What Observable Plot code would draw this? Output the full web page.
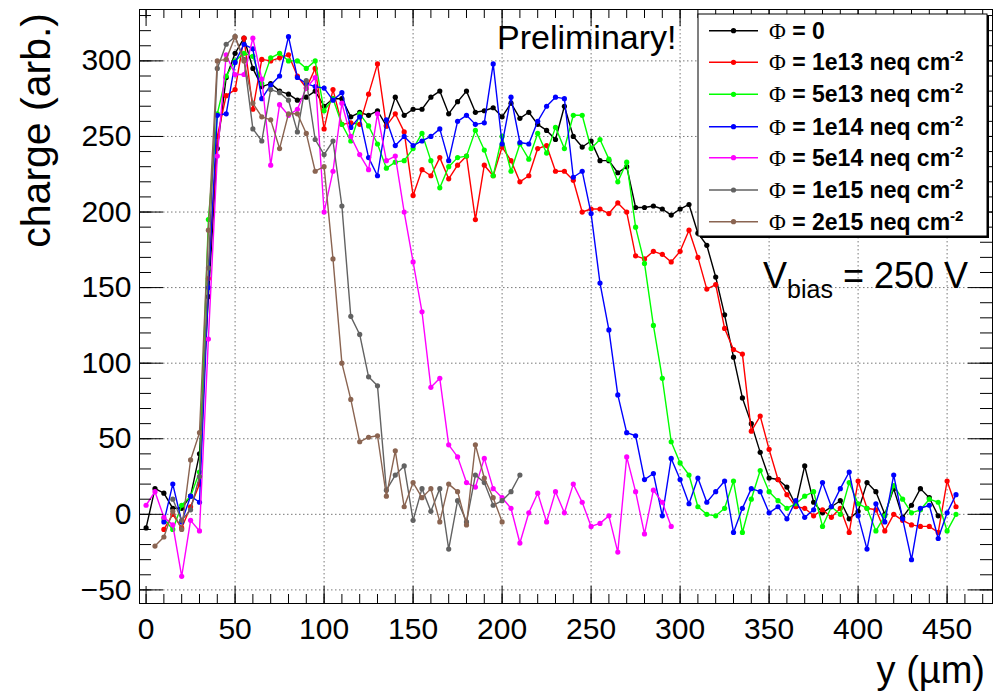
<!DOCTYPE html>
<html><head><meta charset="utf-8">
<script src="https://cdn.jsdelivr.net/npm/d3@7"></script>
<script src="https://cdn.jsdelivr.net/npm/@observablehq/plot@0.6"></script>
<style>
html,body{margin:0;padding:0;background:#fff;}
#chart{width:994px;height:695px;overflow:hidden;}
</style></head><body><div id="chart"></div>
<script>
// ---------- data ----------
const positions = [0,5,10,15,20,25,30,35,40,45,50,55,60,65,70,75,80,85,90,95,
  100,105,110,115,120,125,130,135,140,145,150,155,160,165,170,175,180,185,190,195,
  200,205,210,215,220,225,230,235,240,245,250,255,260,265,270,275,280,285,290,295,
  300,305,310,315,320,325,330,335,340,345,350,355,360,365,370,375,380,385,390,395,
  400,405,410,415,420,425,430,435,440,445,450,455];

const seriesNames = ["Φ = 0","Φ = 1e13 neq cm-2","Φ = 5e13 neq cm-2","Φ = 1e14 neq cm-2",
  "Φ = 5e14 neq cm-2","Φ = 1e15 neq cm-2","Φ = 2e15 neq cm-2"];
const seriesColors = ["#000000","#ff0000","#00ff00","#0000ff","#ff00ff","#626262","#8a6451"];
const seriesFirstY = [0,10,10,10,0,15,5];

const chargePhi0 = [-9,17,14,4,4,12,40,144,242,289,
  305,315,295,283,285,280,278,274,276,280,
  270,275,275,263,266,264,267,257,276,264,
  268,268,276,280,265,273,280,266,267,269,
  263,272,262,266,258,254,248,270,250,243,
  247,234,234,226,230,203,203,204,202,198,
  202,205,186,178,157,132,104,77,60,41,
  24,23,18,6,32,8,1,5,9,-3,
  2,21,15,0,17,-2,6,17,11,-1];
const charge1e13 = [-10,0,-9,5,20,156,250,277,281,315,
  268,301,300,302,304,290,282,295,255,281,
  258,259,258,278,298,257,265,253,211,228,
  224,236,222,231,237,195,231,224,243,234,
  220,224,242,244,227,227,221,200,202,202,
  199,206,200,171,169,174,172,167,174,188,
  170,149,152,123,109,106,55,65,43,23,
  13,5,4,-1,3,-2,4,-12,22,4,
  3,-11,0,-4,-7,-8,-8,-12,22,5];
const charge5e13 = [-3,-10,6,12,28,195,265,290,300,305,
  303,285,302,305,300,300,295,300,267,275,
  258,247,265,257,245,229,233,234,242,252,
  234,216,230,236,237,254,241,224,250,227,
  245,235,252,239,256,242,264,264,242,248,
  235,220,233,190,166,125,90,48,34,26,
  5,0,-1,4,22,-12,10,29,15,9,
  4,7,12,15,-8,5,0,21,7,4,
  -11,-1,19,10,1,3,10,8,-11,0];
const charge1e14 = [-5,20,-5,12,8,150,264,265,299,311,
  308,275,284,290,316,289,285,283,282,274,
  279,256,263,236,224,261,244,250,244,247,
  250,255,234,260,264,258,259,298,245,276,
  246,245,260,270,276,275,223,227,199,153,
  122,79,54,52,23,27,-1,37,23,7,
  24,8,15,22,-12,4,17,15,1,5,
  -3,9,-2,3,21,5,17,28,-1,-23,
  7,-5,26,-3,-30,4,6,-16,1,13];
const charge5e14 = [6,15,-2,-7,-41,-4,-11,116,237,304,
  291,291,315,288,231,271,264,268,282,289,
  200,227,272,250,238,228,265,234,237,200,
  167,134,84,90,46,38,21,18,37,17,
  11,4,-19,1,14,-5,15,1,20,8,
  -8,-6,-1,-25,38,15,-13,16,8,-8];
const charge1e15 = [10,-4,3,25,163,295,311,316,301,255,
  247,281,279,274,253,287,248,238,247,204,
  131,119,91,85,16,26,32,-4,17,2,
  17,-23,9,-5,26,21,6,9,15,26];
const charge2e15 = [-21,-15,2,-10,36,54,188,300,301,316,
  300,272,263,261,242,265,265,252,227,230,
  169,100,76,48,51,52,12,42,5,21,
  11,17,-5,20,15,-7,46,24,11,-5];
const seriesValues = [chargePhi0,charge1e13,charge5e13,charge1e14,charge5e14,charge1e15,charge2e15];

const xMajorTicks = [0,50,100,150,200,250,300,350,400,450];
const xMinorTicks = [0,10,20,30,40,50,60,70,80,90,100,110,120,130,140,150,160,170,180,190,200,
  210,220,230,240,250,260,270,280,290,300,310,320,330,340,350,360,370,380,390,400,410,420,430,440,450,460,470];
const yMajorTicks = [-50,0,50,100,150,200,250,300];
const yMinorTicks = [-50,-40,-30,-20,-10,0,10,20,30,40,50,60,70,80,90,100,110,120,130,140,150,
  160,170,180,190,200,210,220,230,240,250,260,270,280,290,300,310,320,330];

// ---------- build table ----------
const rows = [];
seriesValues.forEach((vals, s) => {
  const i0 = positions.indexOf(seriesFirstY[s]);
  vals.forEach((v, i) => rows.push({series: seriesNames[s], pos: positions[i0 + i], charge: v}));
});

// ---------- layout ----------
const W = 994, H = 695, mL = 139, mR = 2, mT = 9, mB = 92;
const xDomain = [-3.7, 475.5], yDomain = [-59, 334];
const pxX = (W - mL - mR) / (xDomain[1] - xDomain[0]);
const pxY = (H - mT - mB) / (yDomain[1] - yDomain[0]);

const tickRules = [
  Plot.ruleX(xMinorTicks, {x: d => d, y1: yDomain[0], y2: yDomain[0] + 9 / pxY, stroke: "#000"}),
  Plot.ruleX(xMajorTicks, {x: d => d, y1: yDomain[0], y2: yDomain[0] + 17 / pxY, stroke: "#000"}),
  Plot.ruleX(xMinorTicks, {x: d => d, y1: yDomain[1], y2: yDomain[1] - 9 / pxY, stroke: "#000"}),
  Plot.ruleX(xMajorTicks, {x: d => d, y1: yDomain[1], y2: yDomain[1] - 17 / pxY, stroke: "#000"}),
  Plot.ruleY(yMinorTicks, {y: d => d, x1: xDomain[0], x2: xDomain[0] + 12 / pxX, stroke: "#000"}),
  Plot.ruleY(yMajorTicks, {y: d => d, x1: xDomain[0], x2: xDomain[0] + 24 / pxX, stroke: "#000"}),
  Plot.ruleY(yMinorTicks, {y: d => d, x1: xDomain[1], x2: xDomain[1] - 12 / pxX, stroke: "#000"}),
  Plot.ruleY(yMajorTicks, {y: d => d, x1: xDomain[1], x2: xDomain[1] - 24 / pxX, stroke: "#000"})
];

const seriesMarks = [];
seriesNames.forEach((name) => {
  const d = rows.filter(r => r.series === name);
  seriesMarks.push(Plot.line(d, {x: "pos", y: "charge", stroke: "series", strokeWidth: 1.4}));
  seriesMarks.push(Plot.dot(d, {x: "pos", y: "charge", fill: "series", r: 2.6, stroke: null}));
});

const chart = Plot.plot({
  width: W, height: H,
  marginLeft: mL, marginRight: mR, marginTop: mT, marginBottom: mB,
  style: {fontFamily: "'Liberation Sans', Arial, sans-serif", fontSize: "30px", color: "#000", background: "#fff"},
  x: {domain: xDomain},
  y: {domain: yDomain},
  color: {domain: seriesNames, range: seriesColors},
  marks: [
    Plot.ruleX(xMajorTicks.filter(t => t !== 0), {x: d => d, stroke: "#777", strokeWidth: 1, strokeDasharray: "1.5,2.5"}),
    Plot.ruleY(yMajorTicks, {y: d => d, stroke: "#777", strokeWidth: 1, strokeDasharray: "1.5,2.5"}),
    ...seriesMarks,
    ...tickRules,
    Plot.axisX({ticks: xMajorTicks, tickSize: 0, tickPadding: 14, fontSize: 30, label: null}),
    Plot.axisY({ticks: yMajorTicks, tickSize: 0, tickPadding: 8, fontSize: 30, label: null}),
    Plot.frame({stroke: "#000", strokeWidth: 1})
  ]
});
document.getElementById("chart").appendChild(chart);

// ---------- annotations ----------
const svg = d3.select(chart);
const helv = "'Liberation Sans', Arial, sans-serif";
const serif = "'Liberation Serif', 'DejaVu Serif', serif";

svg.append("text").attr("transform", "translate(50,13) rotate(-90)")
  .attr("text-anchor", "end").attr("font-family", helv).attr("font-size", 41).attr("fill", "#000")
  .text("charge (arb.)");
svg.append("text").attr("x", 985).attr("y", 683)
  .attr("text-anchor", "end").attr("font-family", helv).attr("font-size", 38).attr("fill", "#000")
  .text("y (µm)");

svg.append("text").attr("x", 497).attr("y", 49).attr("text-anchor", "start")
  .attr("font-family", helv).attr("font-size", 34).attr("fill", "#000").text("Preliminary!");

const vb = svg.append("text").attr("x", 763).attr("y", 288).attr("text-anchor", "start")
  .attr("font-family", helv).attr("font-size", 36).attr("fill", "#000");
vb.append("tspan").text("V");
vb.append("tspan").attr("font-size", 25).attr("dy", 10).text("bias");
vb.append("tspan").attr("dy", -10).text(" = 250 V");

// legend
const lg = svg.append("g");
lg.append("rect").attr("x", 700).attr("y", 16).attr("width", 289).attr("height", 222).attr("fill", "#000");
lg.append("rect").attr("x", 698).attr("y", 14).attr("width", 289).attr("height", 222)
  .attr("fill", "#fff").attr("stroke", "#000").attr("stroke-width", 1);
const rowY = [30.7, 62.3, 94.3, 126.7, 157.7, 190, 221.7];
seriesNames.forEach((name, i) => {
  const y = rowY[i];
  lg.append("line").attr("x1", 709).attr("x2", 758).attr("y1", y).attr("y2", y)
    .attr("stroke", seriesColors[i]).attr("stroke-width", 1.4);
  lg.append("circle").attr("cx", 733.5).attr("cy", y).attr("r", 2.6).attr("fill", seriesColors[i]);
  const t = lg.append("text").attr("x", 769).attr("y", y + 8).attr("text-anchor", "start")
    .attr("font-family", helv).attr("font-size", 23).attr("font-weight", "bold").attr("fill", "#000");
  t.append("tspan").attr("font-family", serif).attr("font-weight", "normal").text("Φ");
  if (i === 0) {
    t.append("tspan").text(" = 0");
  } else {
    const core = name.replace("Φ", "").replace(" cm-2", " cm");
    t.append("tspan").text(core);
    t.append("tspan").attr("font-size", 15).attr("dy", -9).text("-2");
  }
});
</script></body></html>
